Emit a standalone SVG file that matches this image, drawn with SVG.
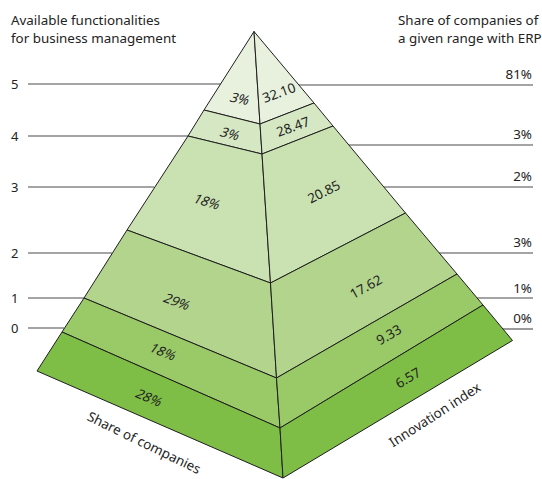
<svg xmlns="http://www.w3.org/2000/svg" width="542" height="479" viewBox="0 0 542 479">
<style>
.face{stroke:#1e1e1e;stroke-width:1;stroke-linejoin:round}
.b5{fill:#e7f1dd}.b4{fill:#d6e8c3}.b3{fill:#cae2b1}.b2{fill:#b2d48d}.b1{fill:#9ac967}.b0{fill:#7fbe46}
.guide{stroke:#4a4a4a;stroke-width:1.1;fill:none}
text{font-family:"Noto Sans","Liberation Sans",sans-serif;fill:#232323;font-size:13.4px}
.lbl{text-anchor:middle}
.num{font-size:13px}
.r{text-anchor:end}
</style>
<rect width="542" height="479" fill="#ffffff"/>
<g id="titles">
<text x="11" y="25">Available functionalities</text>
<text x="11" y="43">for business management</text>
<text x="398" y="25">Share of companies of</text>
<text x="398" y="43">a given range with ERP</text>
</g>
<g id="connectors">
<line class="guide" x1="28" y1="84" x2="221" y2="84"/>
<line class="guide" x1="28" y1="136" x2="188" y2="136"/>
<line class="guide" x1="28" y1="187" x2="154" y2="187"/>
<line class="guide" x1="28" y1="253" x2="112" y2="253"/>
<line class="guide" x1="28" y1="298" x2="84" y2="298"/>
<line class="guide" x1="28" y1="328" x2="64" y2="328"/>
<line class="guide" x1="299" y1="85" x2="533" y2="85"/>
<line class="guide" x1="349" y1="145" x2="533" y2="145"/>
<line class="guide" x1="384" y1="187" x2="533" y2="187"/>
<line class="guide" x1="439" y1="253" x2="533" y2="253"/>
<line class="guide" x1="477" y1="298" x2="533" y2="298"/>
<line class="guide" x1="503" y1="329" x2="533" y2="329"/>
</g>
<g id="axis-left">
<text class="num" x="11" y="89">5</text>
<text class="num" x="11" y="141">4</text>
<text class="num" x="11" y="192">3</text>
<text class="num" x="11" y="258">2</text>
<text class="num" x="11" y="303">1</text>
<text class="num" x="11" y="333">0</text>
</g>
<g id="axis-right">
<text class="r" x="532" y="79">81%</text>
<text class="r" x="532" y="139">3%</text>
<text class="r" x="532" y="181">2%</text>
<text class="r" x="532" y="247">3%</text>
<text class="r" x="532" y="293">1%</text>
<text class="r" x="532" y="323">0%</text>
</g>
<g id="band-5">
<polygon class="face b5" points="254,31.5 204,110 260,124"/>
<polygon class="face b5" points="254,31.5 260,124 314,103"/>
<text class="lbl" transform="translate(240,99) rotate(12) skewX(-14)" y="4.5">3%</text>
<text class="lbl" transform="translate(279,93) rotate(-20)" y="4.5">32.10</text>
</g>
<g id="band-4">
<polygon class="face b4" points="204,110 188,136 262,154 260,124"/>
<polygon class="face b4" points="260,124 262,154 333,126 314,103"/>
<text class="lbl" transform="translate(230,134) rotate(14) skewX(-14)" y="4.5">3%</text>
<text class="lbl" transform="translate(293,127) rotate(-20)" y="4.5">28.47</text>
</g>
<g id="band-3">
<polygon class="face b3" points="188,136 127,230 270.5,283 262,154"/>
<polygon class="face b3" points="262,154 270.5,283 405.5,213 333,126"/>
<text class="lbl" transform="translate(207,202) rotate(17) skewX(-14)" y="4.5">18%</text>
<text class="lbl" transform="translate(324,192) rotate(-27)" y="4.5">20.85</text>
</g>
<g id="band-2">
<polygon class="face b2" points="127,230 84,298 276.5,378 270.5,283"/>
<polygon class="face b2" points="270.5,283 276.5,378 457,274 405.5,213"/>
<text class="lbl" transform="translate(177,302) rotate(20) skewX(-14)" y="4.5">29%</text>
<text class="lbl" transform="translate(366,287) rotate(-29)" y="4.5">17.62</text>
</g>
<g id="band-1">
<polygon class="face b1" points="84,298 62,332 280,428 276.5,378"/>
<polygon class="face b1" points="276.5,378 280,428 483,305 457,274"/>
<text class="lbl" transform="translate(163,352) rotate(22) skewX(-14)" y="4.5">18%</text>
<text class="lbl" transform="translate(389,335) rotate(-30)" y="4.5">9.33</text>
</g>
<g id="band-0">
<polygon class="face b0" points="62,332 37,371 283,478 280,428"/>
<polygon class="face b0" points="280,428 283,478 512.5,340.5 483,305"/>
<text class="lbl" transform="translate(149,398) rotate(23) skewX(-14)" y="4.5">28%</text>
<text class="lbl" transform="translate(408,378) rotate(-31)" y="4.5">6.57</text>
</g>
<g id="axis-labels">
<text class="lbl" transform="translate(144,443) rotate(26)" y="4.5">Share of companies</text>
<text class="lbl" transform="translate(435,415) rotate(-33)" y="4.5">Innovation index</text>
</g>
</svg>
